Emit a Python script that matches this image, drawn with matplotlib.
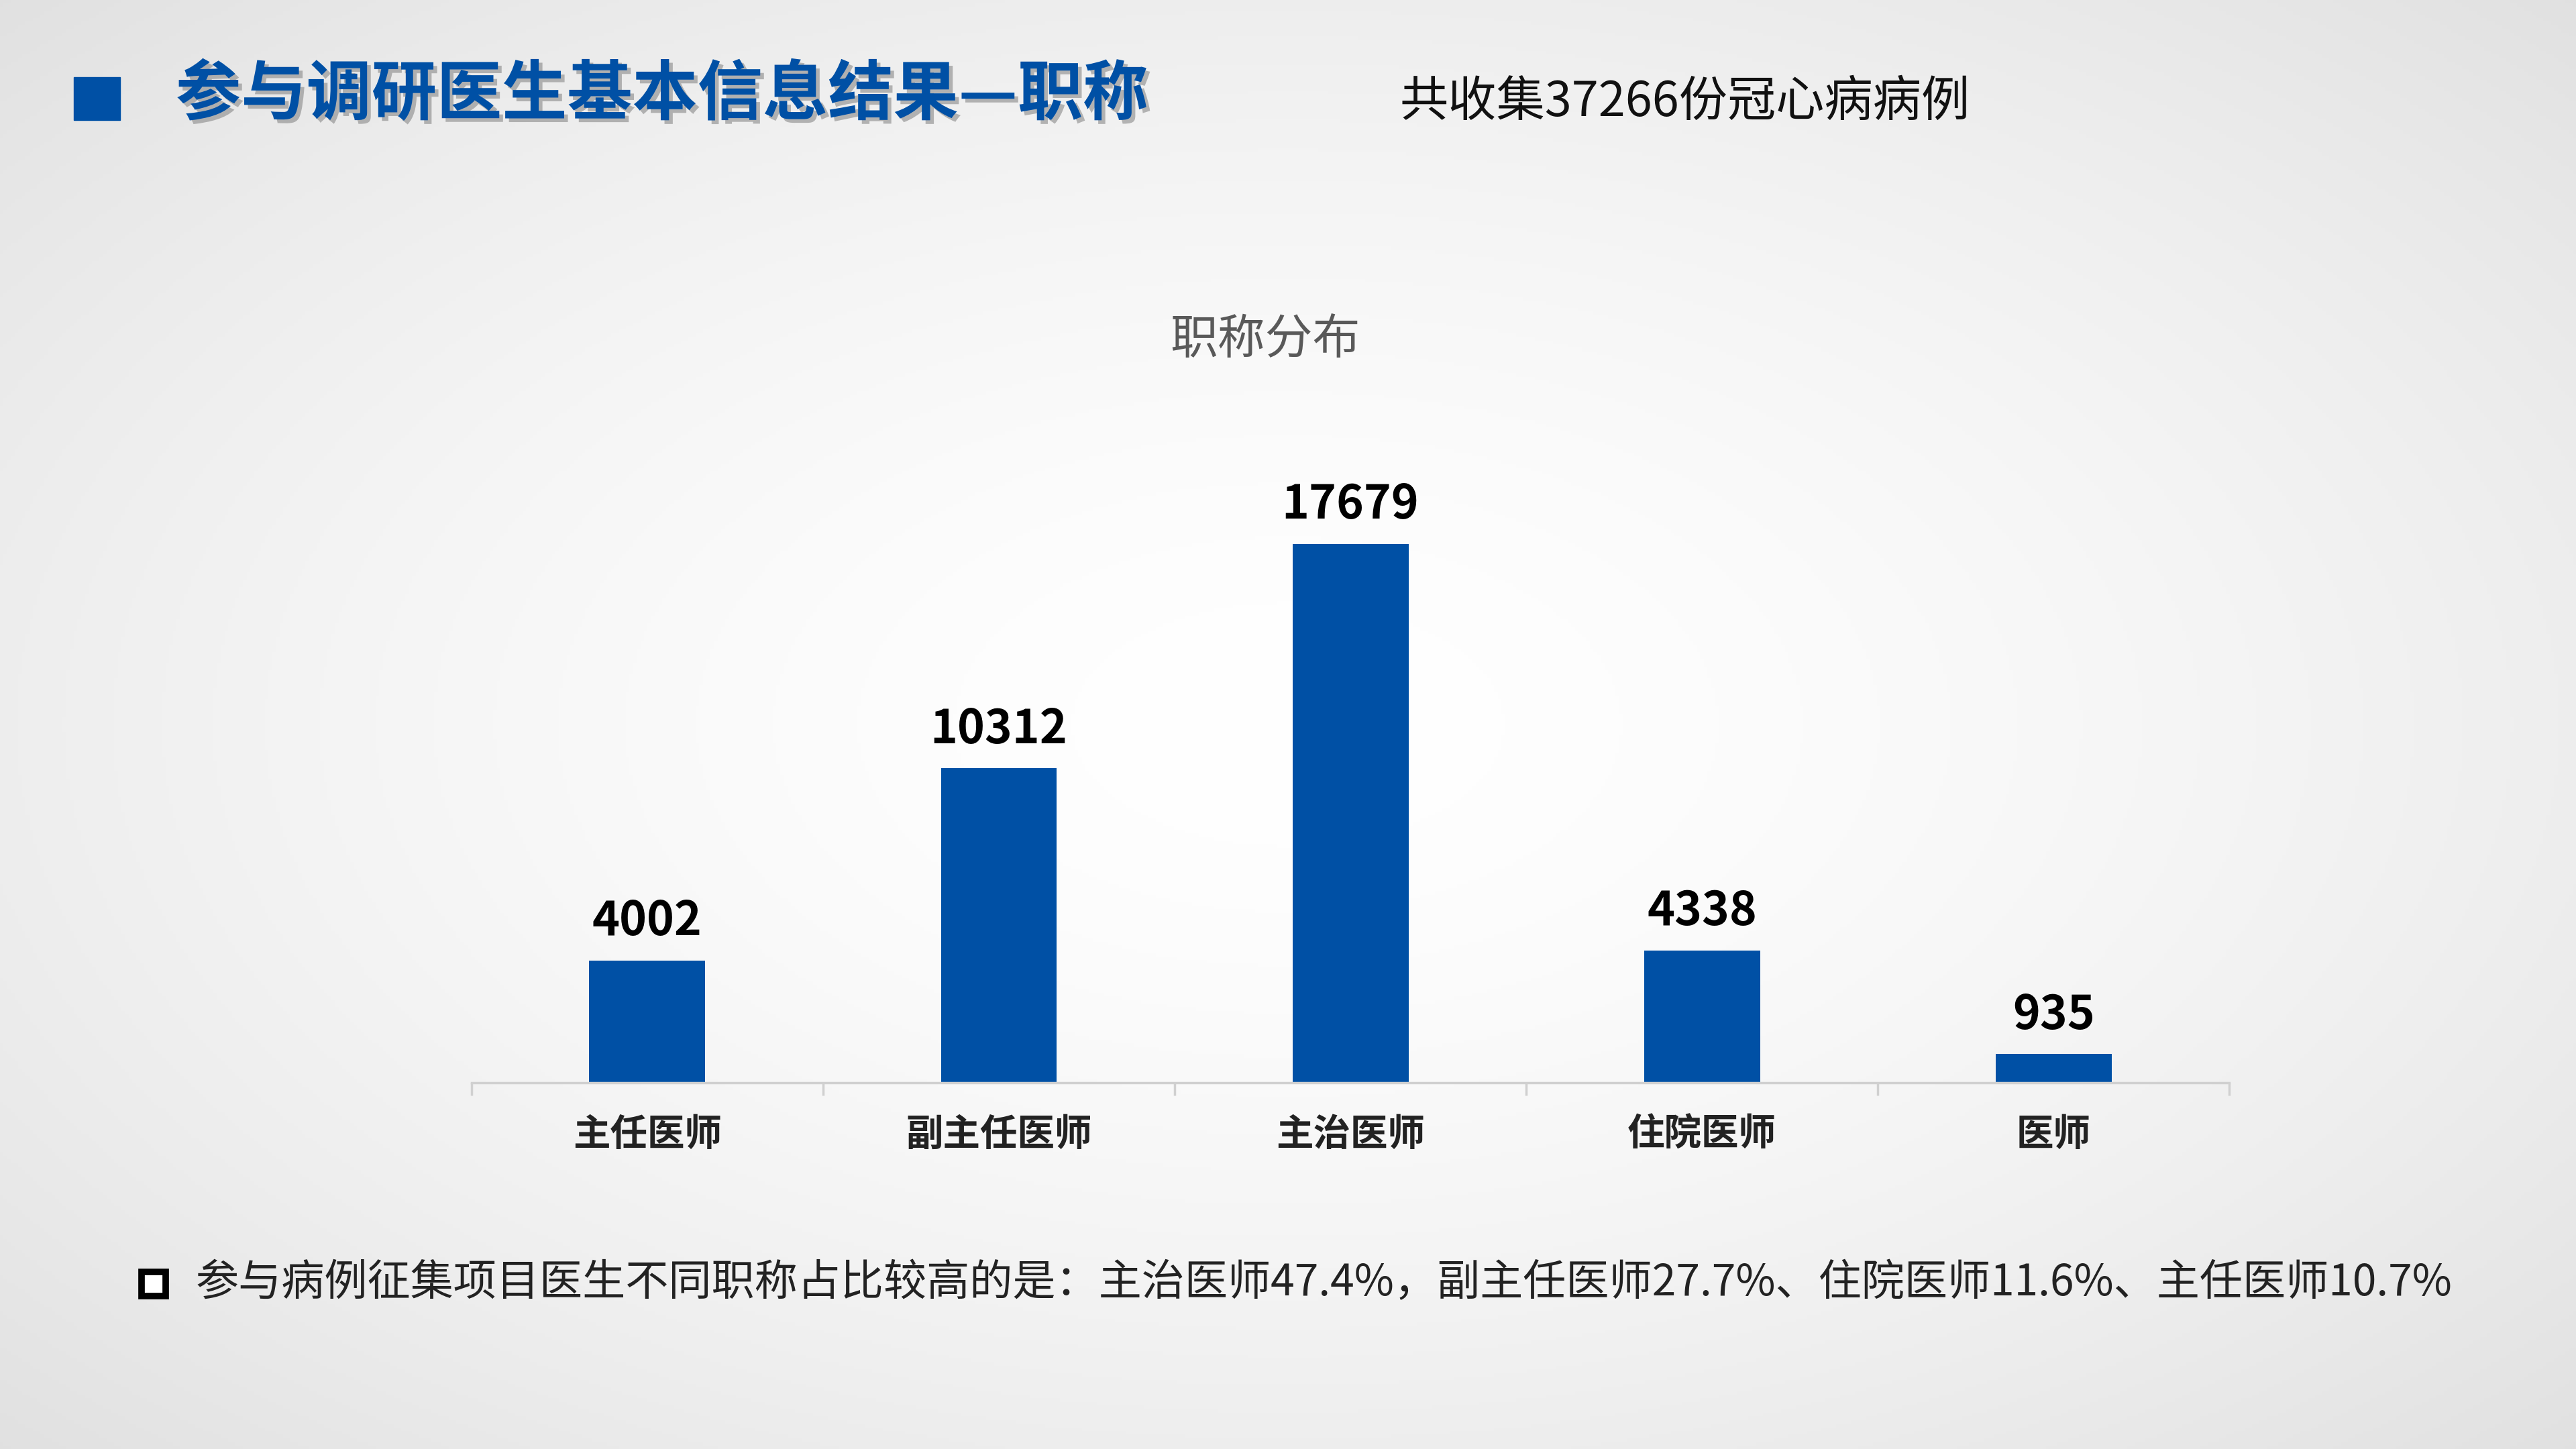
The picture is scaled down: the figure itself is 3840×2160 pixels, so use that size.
import numpy as np
import matplotlib
matplotlib.use("Agg")
import matplotlib.pyplot as plt
import matplotlib.patheffects as pe
from matplotlib.patches import FancyBboxPatch

plt.rcParams['font.family'] = ['Noto Sans CJK SC', 'DejaVu Sans']

categories = ['主任医师', '副主任医师', '主治医师', '住院医师', '医师']
values = [4002, 10312, 17679, 4338, 935]
title = '参与调研医生基本信息结果—职称'
subtitle = '共收集37266份冠心病病例'
chart_title = '职称分布'
note = '参与病例征集项目医生不同职称占比较高的是：主治医师47.4%，副主任医师27.7%、住院医师11.6%、主任医师10.7%'

W, H = 1568, 882
fig = plt.figure(figsize=(38.4, 21.6), dpi=100)

bg = fig.add_axes([0, 0, 1, 1])
yy, xx = np.mgrid[0:1:400j, 0:1:700j]
r = np.sqrt(((xx - 0.5) / 0.75) ** 2 + ((yy - 0.5) / 0.75) ** 2)
val = 1.0 - 0.13 * np.clip(r, 0, 1) ** 1.6
bg.imshow(np.dstack([val, val, val]), extent=[0, 1, 0, 1], aspect='auto', origin='lower')
bg.set_axis_off()
bg.set_xlim(0, 1); bg.set_ylim(0, 1)

blue = '#0050A5'
def fx(x): return x / W
def fy(y): return 1 - y / H

bg.add_patch(plt.Rectangle((fx(45), fy(73)), fx(28), 26 / H, color=blue))
bg.text(fx(107), fy(58), title, fontsize=70, fontweight='bold', color=blue, va='center', ha='left',
        path_effects=[pe.withSimplePatchShadow(offset=(4, -4), shadow_rgbFace='#888888', alpha=0.6)])
bg.text(fx(852), fy(62), subtitle, fontsize=52, color='#111111', va='center', ha='left')
bg.text(fx(770), fy(207), chart_title, fontsize=51, color='#595959', va='center', ha='center')
bg.add_patch(plt.Rectangle((fx(86), fy(789)), fx(15), 15 / H, facecolor='white', edgecolor='black', linewidth=7))
bg.text(fx(119), fy(781), note, fontsize=46.2, color='#222222', va='center', ha='left')

ax = fig.add_axes([fx(287), fy(659), fx(1357 - 287), (659 - 288) / H])
ax.patch.set_alpha(0)
x = np.arange(len(categories))
ax.bar(x, values, width=0.33, color=blue)
for xi, v in zip(x, values):
    ax.text(xi, v + 500, str(v), ha='center', va='bottom', fontsize=50, fontweight='bold', color='black')
ax.set_xlim(-0.5, len(categories) - 0.5)
ax.set_ylim(0, 20000)
ax.set_yticks([])
ax.set_xticks(x)
ax.set_xticklabels(categories, fontsize=40, fontweight='bold', color='#222222')
ax.set_xticks(np.arange(-0.5, len(categories)), minor=True)
ax.tick_params(axis='x', which='major', length=0, pad=36)
ax.tick_params(axis='x', which='minor', length=14, color='#D0D0D0', width=2.5)
for s in ['top', 'right', 'left']:
    ax.spines[s].set_visible(False)
ax.spines['bottom'].set_color('#D0D0D0')
ax.spines['bottom'].set_linewidth(2.5)

fig.savefig('out.png', dpi=100)
